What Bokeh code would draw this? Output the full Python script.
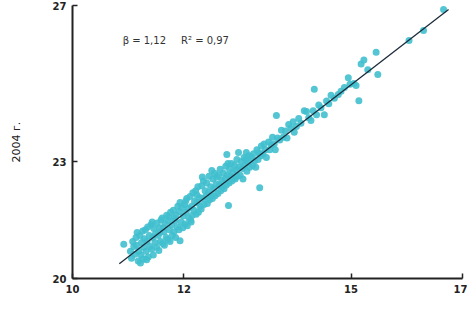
from bokeh.plotting import figure
from bokeh.models import FixedTicker, Label, ColumnDataSource
from bokeh.embed import file_html
from bokeh.resources import INLINE

# ---- data ----
x_ticks = [10, 12, 15, 17]
y_ticks = [20, 23, 27]
y_title = "2004 г."
beta_text = "β = 1,12\u2003\u2002R² = 0,97"

fit_x = [10.84, 16.75]
fit_y = [20.38, 26.90]

pts_x = [
    10.92, 11.04, 11.08, 11.06, 11.10,
    11.12, 11.14, 11.16, 11.18, 11.15, 11.19,
    11.21, 11.23, 11.24, 11.26, 11.27, 11.28, 11.29, 11.22,
    11.31, 11.32, 11.34, 11.35, 11.36, 11.38, 11.39, 11.33,
    11.41, 11.42, 11.44, 11.45, 11.46, 11.48, 11.49, 11.43,
    11.51, 11.52, 11.54, 11.55, 11.56, 11.58, 11.59, 11.57,
    11.61, 11.62, 11.64, 11.65, 11.66, 11.68, 11.69, 11.63,
    11.71, 11.72, 11.74, 11.75, 11.76, 11.78, 11.79, 11.73,
    11.81, 11.82, 11.84, 11.85, 11.86, 11.88, 11.89, 11.83,
    11.91, 11.92, 11.93, 11.93, 11.95, 11.96, 11.98, 11.99,
    12.01, 12.02, 12.04, 12.05, 12.06, 12.08, 12.09, 12.03,
    12.11, 12.12, 12.14, 12.15, 12.16, 12.18, 12.19, 12.13,
    12.21, 12.22, 12.24, 12.25, 12.26, 12.28, 12.29, 12.23,
    12.31, 12.32, 12.34, 12.35, 12.36, 12.38, 12.39, 12.33,
    12.41, 12.42, 12.44, 12.45, 12.46, 12.48, 12.49, 12.50,
    12.51, 12.52, 12.54, 12.55, 12.56, 12.58, 12.59,
    12.61, 12.62, 12.64, 12.65, 12.66, 12.68, 12.69,
    12.71, 12.72, 12.74, 12.75, 12.76, 12.77, 12.78, 12.79,
    12.80, 12.81, 12.82, 12.84, 12.85, 12.86, 12.88, 12.89,
    12.91, 12.92, 12.94, 12.95, 12.96, 12.98, 12.99,
    13.01, 13.03, 13.05, 13.06, 13.08, 13.09,
    13.11, 13.12, 13.13, 13.15, 13.17, 13.18,
    13.21, 13.23, 13.25, 13.27, 13.29,
    13.31, 13.33, 13.35, 13.36, 13.38, 13.39,
    13.42, 13.44, 13.46, 13.48,
    13.52, 13.54, 13.57, 13.59,
    13.62, 13.64, 13.66, 13.68,
    13.72, 13.75, 13.78, 13.82, 13.85, 13.88, 13.92, 13.96, 13.98,
    14.02, 14.06, 14.10, 14.16, 14.20, 14.24, 14.28, 14.32, 14.34, 14.38, 14.42, 14.46,
    14.52, 14.56, 14.60, 14.64, 14.70, 14.77, 14.82, 14.88, 14.95, 14.98,
    15.05, 15.09, 15.14, 15.18, 15.23, 15.30, 15.45, 15.48,
    16.04, 16.30, 16.66,
]
pts_y = [
    20.88, 20.70, 20.95, 20.52, 20.82,
    20.62, 21.05, 21.18, 20.45, 20.85, 20.70,
    21.10, 20.60, 20.92, 21.22, 20.50, 20.80, 21.02, 20.40,
    21.25, 20.70, 20.95, 21.32, 20.55, 21.10, 20.82, 20.48,
    21.38, 20.75, 21.05, 20.60, 21.28, 20.92, 21.15, 21.45,
    20.80, 21.42, 21.10, 20.72, 21.30, 20.95, 21.50, 21.18,
    21.55, 20.90, 21.20, 20.85, 21.40, 21.05, 21.62, 21.30,
    21.00, 21.48, 21.25, 20.95, 21.70, 21.38, 21.10, 21.58,
    21.75, 21.20, 21.48, 21.05, 21.62, 21.32, 21.85, 21.55,
    21.25, 21.72, 21.95, 20.97, 21.45, 21.82, 21.30, 21.60,
    21.90, 21.40, 21.70, 22.05, 21.35, 21.80, 21.55, 21.98,
    22.10, 21.50, 21.85, 21.62, 22.20, 21.75, 21.98, 21.45,
    22.25, 21.65, 21.95, 22.35, 21.70, 22.08, 21.85, 22.15,
    21.78, 22.38, 22.05, 22.50, 21.90, 22.25, 22.10, 22.60,
    22.45, 21.92, 22.20, 22.62, 22.02, 22.35, 22.15, 22.77,
    22.05, 22.55, 22.30, 22.70, 22.12, 22.42, 22.60,
    22.18, 22.65, 22.40, 22.80, 22.25, 22.52, 22.35,
    22.70, 22.30, 22.55, 22.88, 22.40, 23.18, 22.65, 22.95,
    21.87, 22.45, 22.80, 22.62, 22.95, 22.50, 22.72, 22.58,
    22.90, 22.55, 22.78, 23.05, 22.62, 23.23, 22.85,
    22.65, 23.00, 22.82, 22.55, 23.10, 22.90,
    23.05, 23.23, 22.75, 22.98, 23.15, 22.85,
    23.10, 22.90, 23.20, 23.02, 22.85,
    23.30, 23.05, 23.22, 22.33, 23.15, 23.40,
    23.20, 23.45, 23.30, 23.10,
    23.50, 23.30, 23.42, 23.62,
    23.45, 23.30, 24.18, 23.60,
    23.55, 23.80, 23.62, 23.78, 23.60, 23.95, 23.85, 24.02, 23.75,
    23.90, 24.10, 23.98, 24.30, 24.28, 24.12, 24.05, 24.30, 24.85, 24.20, 24.45, 24.38,
    24.20, 24.55, 24.48, 24.70, 24.62, 24.72, 24.80, 24.90, 25.15, 24.98,
    25.00, 24.95, 24.56, 25.50, 25.60, 25.35, 25.80, 25.23,
    26.10, 26.36, 26.90,
]

# ---- figure ----
p = figure(width=467, height=300, x_range=(10, 17), y_range=(20, 27),
           output_backend="svg", toolbar_location=None,
           min_border_left=72, min_border_right=5, min_border_top=5,
           min_border_bottom=22)
p.outline_line_color = None
p.xgrid.grid_line_color = None
p.ygrid.grid_line_color = None
p.background_fill_color = "white"
p.border_fill_color = "white"

src = ColumnDataSource(dict(x=pts_x, y=pts_y))
p.scatter("x", "y", source=src, size=7, fill_color="#40bfce",
          fill_alpha=0.9, line_color=None)
p.line(fit_x, fit_y, line_color="#1c2b3a", line_width=1.3)

for ax, ticks in ((p.xaxis, x_ticks), (p.yaxis, y_ticks)):
    ax.ticker = FixedTicker(ticks=ticks)
    ax.axis_line_color = "#222222"
    ax.axis_line_width = 2
    ax.major_tick_line_color = "#222222"
    ax.major_tick_line_width = 1.5
    ax.major_tick_in = 5
    ax.major_tick_out = 0
    ax.minor_tick_line_color = None
    ax.major_label_text_font = "DejaVu Sans"
    ax.major_label_text_font_style = "bold"
    ax.major_label_text_font_size = "10px"
    ax.major_label_text_color = "#222222"
    ax.major_label_standoff = 6

p.yaxis.axis_label = y_title
p.yaxis.axis_label_text_font = "DejaVu Sans"
p.yaxis.axis_label_text_font_style = "normal"
p.yaxis.axis_label_text_font_size = "11px"
p.yaxis.axis_label_text_color = "#222222"
p.yaxis.axis_label_standoff = 27

p.add_layout(Label(x=10.9, y=26.1, text=beta_text, text_font="DejaVu Sans",
                   text_font_size="10px", text_color="#333333",
                   text_baseline="middle"))

open("out.html", "w").write(file_html(p, INLINE))
